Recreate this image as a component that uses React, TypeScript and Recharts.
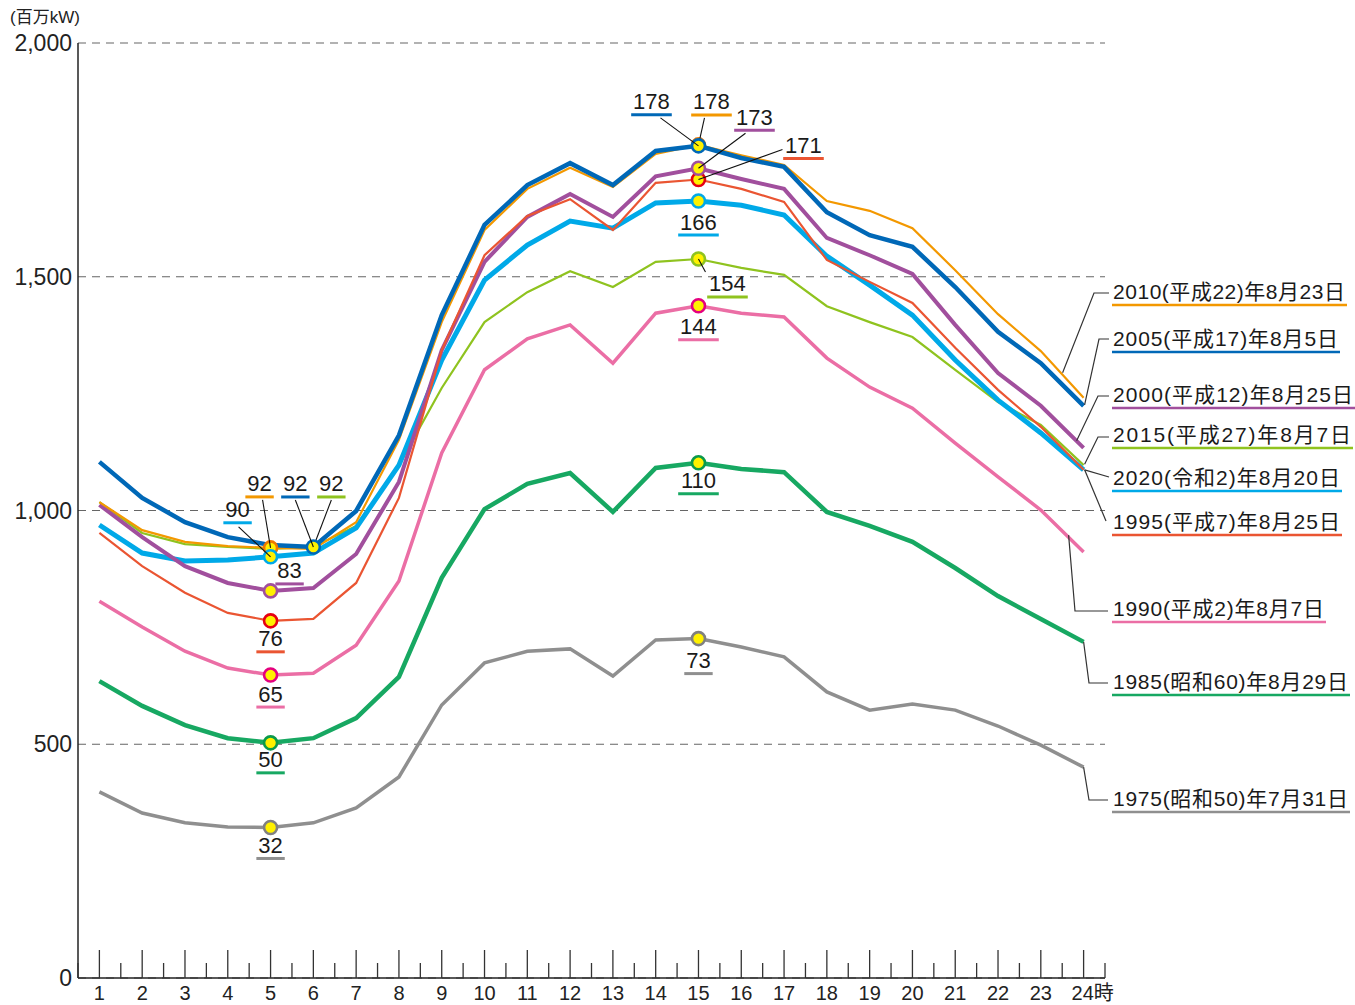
import React from "react";
import { LineChart, Line, XAxis, YAxis, CartesianGrid } from "recharts";

// hours of the day (x axis) and half-hour minor ticks
const HOURS = [1, 2, 3, 4, 5, 6, 7, 8, 9, 10, 11, 12, 13, 14, 15, 16, 17, 18, 19, 20, 21, 22, 23, 24];
const HALF_HOURS = [0.5, 1.5, 2.5, 3.5, 4.5, 5.5, 6.5, 7.5, 8.5, 9.5, 10.5, 11.5, 12.5, 13.5, 14.5, 15.5, 16.5, 17.5, 18.5, 19.5, 20.5, 21.5, 22.5, 23.5, 24.5];
const Y_TICKS = [0, 500, 1000, 1500, 2000];

// hourly load curves of the peak day
const LOAD_2010 = [1018, 958, 933, 924, 920, 918, 975, 1151, 1403, 1600, 1688, 1733, 1692, 1763, 1782, 1760, 1739, 1662, 1641, 1604, 1514, 1420, 1341, 1241];
const LOAD_2005 = [1104, 1027, 975, 943, 926, 922, 999, 1161, 1418, 1611, 1696, 1743, 1696, 1769, 1780, 1754, 1735, 1638, 1589, 1564, 1478, 1382, 1315, 1224];
const LOAD_2000 = [1012, 943, 881, 845, 828, 834, 907, 1061, 1343, 1532, 1628, 1677, 1628, 1715, 1732, 1709, 1688, 1583, 1546, 1506, 1397, 1294, 1224, 1134];
const LOAD_2015 = [1018, 952, 928, 922, 918, 922, 967, 1097, 1262, 1403, 1467, 1512, 1478, 1532, 1538, 1519, 1504, 1437, 1403, 1371, 1301, 1232, 1183, 1097];
const LOAD_2020 = [969, 909, 892, 894, 901, 909, 963, 1097, 1322, 1493, 1568, 1619, 1604, 1658, 1662, 1653, 1632, 1544, 1482, 1418, 1322, 1236, 1166, 1087];
const LOAD_1995 = [952, 881, 824, 781, 764, 768, 845, 1027, 1343, 1546, 1630, 1666, 1600, 1701, 1708, 1688, 1660, 1536, 1489, 1444, 1348, 1258, 1179, 1087];
const LOAD_1990 = [806, 751, 699, 663, 648, 652, 712, 849, 1123, 1301, 1367, 1397, 1315, 1422, 1438, 1422, 1414, 1326, 1264, 1219, 1144, 1072, 1001, 911];
const LOAD_1985 = [635, 582, 541, 513, 503, 513, 556, 644, 856, 1003, 1057, 1080, 997, 1091, 1102, 1089, 1082, 997, 967, 933, 877, 817, 768, 719];
const LOAD_1975 = [398, 353, 332, 323, 322, 332, 364, 430, 584, 674, 699, 704, 646, 723, 726, 708, 687, 612, 573, 586, 573, 539, 498, 451];

const FONT = '"Liberation Sans", Arial, "Noto Sans CJK JP", sans-serif';

type Mark = { hour: number; dx: number; dy: number; lead?: [number, number]; noDot?: boolean };
type Legend = { y: number; w: number; from: [number, number]; elbow?: [number, number]; end: [number, number] };
type Series = {
  key: string;
  name: string;
  color: string;
  ring: string;
  width: number;
  marks: Mark[];
  legend: Legend;
};

const S2010: Series = {
  key: "y2010", name: "2010(平成22)年8月23日", color: "#f39800", ring: "#ee7800", width: 2.2,
  marks: [
    { hour: 5, dx: -11, dy: -64, lead: [3, 16] },
    { hour: 15, dx: 13, dy: -43, lead: [-7, 16] },
  ],
  legend: { y: 292, w: 235, from: [-21, -25], elbow: [1094, 293], end: [1109, 293] },
};
const S2005: Series = {
  key: "y2005", name: "2005(平成17)年8月5日", color: "#0068b7", ring: "#0068b7", width: 4.5,
  marks: [
    { hour: 6, dx: -18, dy: -63, lead: [0, 16] },
    { hour: 15, dx: -47, dy: -44, lead: [9, 16] },
  ],
  legend: { y: 339, w: 228, from: [1, -1], elbow: [1099, 339], end: [1109, 339] },
};
const S2000: Series = {
  key: "y2000", name: "2000(平成12)年8月25日", color: "#a14f9d", ring: "#a14f9d", width: 4,
  marks: [
    { hour: 5, dx: 19, dy: -20 },
    { hour: 15, dx: 56, dy: -51, lead: [-9, 16] },
  ],
  legend: { y: 395, w: 243, from: [-7, -7], elbow: [1098, 396], end: [1109, 396] },
};
const S2015: Series = {
  key: "y2015", name: "2015(平成27)年8月7日", color: "#8fc31f", ring: "#8fc31f", width: 2.2,
  marks: [
    { hour: 6, dx: 18, dy: -63, lead: [0, 16], noDot: true },
    { hour: 15, dx: 29, dy: 25, lead: [-22, -12] },
  ],
  legend: { y: 435, w: 241, from: [1, -1], elbow: [1098, 437], end: [1109, 437] },
};
const S2020: Series = {
  key: "y2020", name: "2020(令和2)年8月20日", color: "#00a9e8", ring: "#00a9e8", width: 5,
  marks: [
    { hour: 5, dx: -33, dy: -47, lead: [1, 17] },
    { hour: 15, dx: 0, dy: 21 },
  ],
  legend: { y: 478, w: 230, from: [1, 0], end: [1109, 477] },
};
const S1995: Series = {
  key: "y1995", name: "1995(平成7)年8月25日", color: "#ea5532", ring: "#e60012", width: 2.2,
  marks: [
    { hour: 5, dx: 0, dy: 18 },
    { hour: 15, dx: 105, dy: -34, lead: [-21, 4] },
  ],
  legend: { y: 522, w: 230, from: [1, 0], end: [1106, 521] },
};
const S1990: Series = {
  key: "y1990", name: "1990(平成2)年8月7日", color: "#eb6ea5", ring: "#e4007f", width: 3.5,
  marks: [
    { hour: 5, dx: 0, dy: 19 },
    { hour: 15, dx: 0, dy: 21 },
  ],
  legend: { y: 609, w: 214, from: [-15, -17], elbow: [1075, 611], end: [1108, 611] },
};
const S1985: Series = {
  key: "y1985", name: "1985(昭和60)年8月29日", color: "#17a862", ring: "#0a9a4a", width: 4.5,
  marks: [
    { hour: 5, dx: 0, dy: 17 },
    { hour: 15, dx: 0, dy: 18 },
  ],
  legend: { y: 682, w: 238, from: [0, 0], elbow: [1089, 683], end: [1108, 683] },
};
const S1975: Series = {
  key: "y1975", name: "1975(昭和50)年7月31日", color: "#8f8f8f", ring: "#808080", width: 3.5,
  marks: [
    { hour: 5, dx: 0, dy: 18 },
    { hour: 15, dx: 0, dy: 22 },
  ],
  legend: { y: 799, w: 238, from: [0, 0], elbow: [1089, 800], end: [1108, 800] },
};

const rows = HOURS.map((hour, i) => ({
  hour,
  y2010: LOAD_2010[i],
  y2005: LOAD_2005[i],
  y2000: LOAD_2000[i],
  y2015: LOAD_2015[i],
  y2020: LOAD_2020[i],
  y1995: LOAD_1995[i],
  y1990: LOAD_1990[i],
  y1985: LOAD_1985[i],
  y1975: LOAD_1975[i],
}));

// draw order of the curves (bottom first)
const LINE_ORDER = [S1975, S1985, S1990, S2015, S2020, S2000, S1995, S2010, S2005];
// draw order of the yellow markers / labels
const MARK_ORDER = [S1975, S1985, S1990, S1995, S2000, S2015, S2010, S2020, S2005];

const X_TICKS = [...HALF_HOURS, ...HOURS].sort((a, b) => a - b);

function HourTick(props: any) {
  const { x, y, payload } = props;
  const v = payload.value as number;
  const major = v % 1 === 0;
  return (
    <g>
      <line x1={x} x2={x} y1={y} y2={y - (major ? 28 : 15)} stroke="#333" strokeWidth={1.3} />
      {major && (
        <text
          x={v === 24 ? x - 12 : x}
          y={y + 22}
          textAnchor={v === 24 ? "start" : "middle"}
          fontSize={20}
          fill="#222"
          fontFamily={FONT}
        >
          {v === 24 ? "24時" : v}
        </text>
      )}
    </g>
  );
}

const markRenderer = (s: Series) => (p: any) => {
  const { cx, cy, index, value } = p;
  const hour = HOURS[index];
  const items: React.ReactNode[] = [];

  s.marks
    .filter((m) => m.hour === hour)
    .forEach((m, k) => {
      const label = String(Math.round(value / 10));
      const tx = cx + m.dx;
      const ty = cy + m.dy;
      const w = label.length * 12.2;
      if (!m.noDot) {
        items.push(
          <circle key={`c${k}`} cx={cx} cy={cy} r={6.5} fill="#fff100" stroke={s.ring} strokeWidth={2.6} />
        );
      }
      items.push(
        <text key={`t${k}`} x={tx} y={ty + 7.5} textAnchor="middle" fontSize={22} fill="#1a1a1a" fontFamily={FONT}>
          {label}
        </text>
      );
      items.push(
        <line key={`u${k}`} x1={tx - w / 2 - 2} x2={tx + w / 2 + 2} y1={ty + 13} y2={ty + 13} stroke={s.color} strokeWidth={3} />
      );
      if (m.lead) {
        items.push(
          <line key={`l${k}`} x1={tx + m.lead[0]} y1={ty + m.lead[1]} x2={cx} y2={cy} stroke="#111" strokeWidth={1.1} />
        );
      }
    });

  if (index === HOURS.length - 1) {
    const L = s.legend;
    const pts: [number, number][] = [[cx + L.from[0], cy + L.from[1]]];
    if (L.elbow) pts.push(L.elbow);
    pts.push(L.end);
    items.push(
      <polyline key="lg-lead" points={pts.map((q) => q.join(",")).join(" ")} fill="none" stroke="#333" strokeWidth={1.2} />
    );
    items.push(
      <text key="lg-text" x={1113} y={L.y + 7} fontSize={21} fill="#1a1a1a" fontFamily={FONT} textLength={L.w - 3}>
        {s.name}
      </text>
    );
    items.push(
      <line key="lg-line" x1={1112} x2={1112 + L.w} y1={L.y + 13} y2={L.y + 13} stroke={s.color} strokeWidth={2.5} />
    );
  }

  return <g key={`${s.key}-${index}`}>{items}</g>;
};

export default function App() {
  return (
    <div style={{ position: "absolute", left: 0, top: 0, width: 1355, height: 1005, background: "#fff" }}>
      <div
        style={{
          position: "absolute",
          left: 10,
          top: 8,
          fontSize: 17,
          fontFamily: FONT,
          color: "#222",
          lineHeight: "20px",
        }}
      >
        (百万kW)
      </div>
      <LineChart width={1355} height={1005} data={rows} margin={{ top: 43, right: 250, bottom: 0, left: 0 }}>
        <CartesianGrid vertical={false} stroke="#666" strokeDasharray="8 6" strokeWidth={1.2} />
        <XAxis
          type="number"
          dataKey="hour"
          domain={[0.5, 24.5]}
          ticks={X_TICKS}
          interval={0}
          tick={<HourTick />}
          tickLine={false}
          tickSize={0}
          tickMargin={0}
          height={27}
          axisLine={{ stroke: "#222", strokeWidth: 1.5 }}
        />
        <YAxis
          domain={[0, 2000]}
          ticks={Y_TICKS}
          interval={0}
          width={78}
          tickLine={false}
          tickSize={0}
          tickMargin={6}
          tickFormatter={(v: number) => v.toLocaleString("en-US")}
          tick={{ fontSize: 23, fill: "#222", fontFamily: FONT }}
          axisLine={{ stroke: "#222", strokeWidth: 1.5 }}
        />
        {LINE_ORDER.map((s) => (
          <Line
            key={s.key}
            type="linear"
            dataKey={s.key}
            stroke={s.color}
            strokeWidth={s.width}
            dot={false}
            activeDot={false}
            isAnimationActive={false}
          />
        ))}
        {MARK_ORDER.map((s) => (
          <Line
            key={`${s.key}-marks`}
            type="linear"
            dataKey={s.key}
            stroke="none"
            dot={markRenderer(s)}
            activeDot={false}
            isAnimationActive={false}
            legendType="none"
          />
        ))}
      </LineChart>
    </div>
  );
}
